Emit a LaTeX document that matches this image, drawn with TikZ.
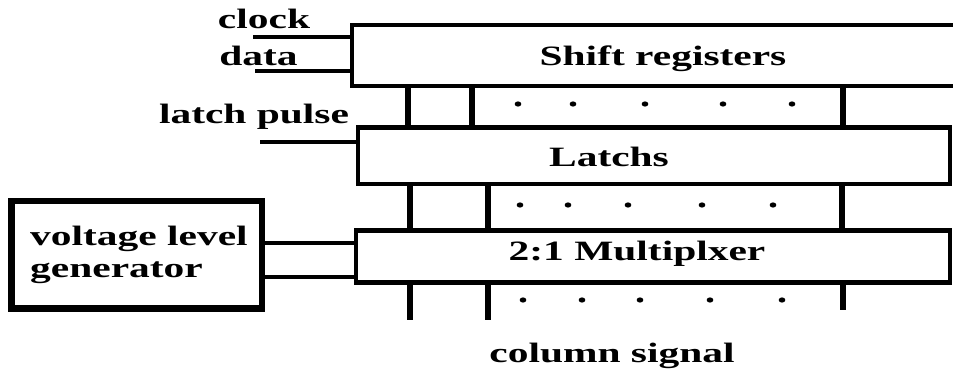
\documentclass[tikz,border=0pt]{standalone}
\usepackage{fontspec}
\setmainfont{Liberation Serif}[FakeStretch=1.48]
\begin{document}
\begin{tikzpicture}[x=1pt,y=-1pt,
  box/.style={draw, line width=4.5pt, inner sep=0pt, outer sep=0pt},
  lbl/.style={font=\bfseries\fontsize{28}{32}\selectfont, inner sep=0pt},
  wire/.style={line width=4.5pt},
  bus/.style={line width=6.5pt},
  dotmark/.style={fill=black}]
\useasboundingbox (0,0) rectangle (953,372);
% boxes
\node[box, minimum width=648pt, minimum height=61pt] (sr) at (676,55.5) {};
\node[box, minimum width=592pt, minimum height=56.5pt] (latch) at (654,155.75) {};
\node[box, minimum width=594pt, minimum height=52pt] (mux) at (653,256.5) {};
\node[box, line width=6.5pt, minimum width=250.5pt, minimum height=107.5pt] (vlg) at (136.75,254.75) {};
% box texts
\node[lbl, anchor=base] (srt) at (663,65) {Shift registers};
\node[lbl, anchor=base] (lat) at (609,166) {Latchs};
\node[lbl, anchor=base] (muxt) at (637,260) {2:1 Multiplxer};
\node[lbl, anchor=base west] (vlgt1) at (30,245) {voltage level};
\node[lbl, anchor=base west] (vlgt2) at (30,277) {generator};
\node[lbl, anchor=base] (col) at (612,362) {column signal};
% input labels and wires
\node[lbl, anchor=base] (clk) at (264,28) {clock};
\node[lbl, anchor=base] (dat) at (258.5,65) {data};
\node[lbl, anchor=base] (lp) at (254,123) {latch pulse};
\coordinate (ck) at (253,37);
\coordinate (dt) at (255,71);
\coordinate (lpc) at (260,142);
\draw[wire] (ck) -- (ck -| sr.west);
\draw[wire] (dt) -- (dt -| sr.west);
\draw[wire] (lpc) -- (lpc -| latch.west);
\draw[wire] (vlg.east |- 0,243) -- (mux.west |- 0,243);
\draw[wire] (vlg.east |- 0,277) -- (mux.west |- 0,277);
% buses shift registers -> latchs
\draw[bus] (408,0 |- sr.south) -- (408,0 |- latch.north);
\draw[bus] (472,0 |- sr.south) -- (472,0 |- latch.north);
\draw[bus] (843,0 |- sr.south) -- (843,0 |- latch.north);
% buses latchs -> mux
\draw[bus] (410,0 |- latch.south) -- (410,0 |- mux.north);
\draw[bus] (488,0 |- latch.south) -- (488,0 |- mux.north);
\draw[bus] (842,0 |- latch.south) -- (842,0 |- mux.north);
% outputs
\coordinate (o1) at (410,320);
\coordinate (o2) at (488,320);
\coordinate (o3) at (843,310);
\draw[bus] (o1 |- mux.south) -- (o1);
\draw[bus] (o2 |- mux.south) -- (o2);
\draw[bus] (o3 |- mux.south) -- (o3);
% dots
\foreach \x in {518,573,645,723,792} \fill[dotmark] (\x,104) ellipse [x radius=3.3pt, y radius=2.6pt];
\foreach \x in {520,568,628,702,773} \fill[dotmark] (\x,205) ellipse [x radius=3.3pt, y radius=2.6pt];
\foreach \x in {523,582,640,710,782} \fill[dotmark] (\x,300) ellipse [x radius=3.3pt, y radius=2.6pt];
\end{tikzpicture}
\end{document}
